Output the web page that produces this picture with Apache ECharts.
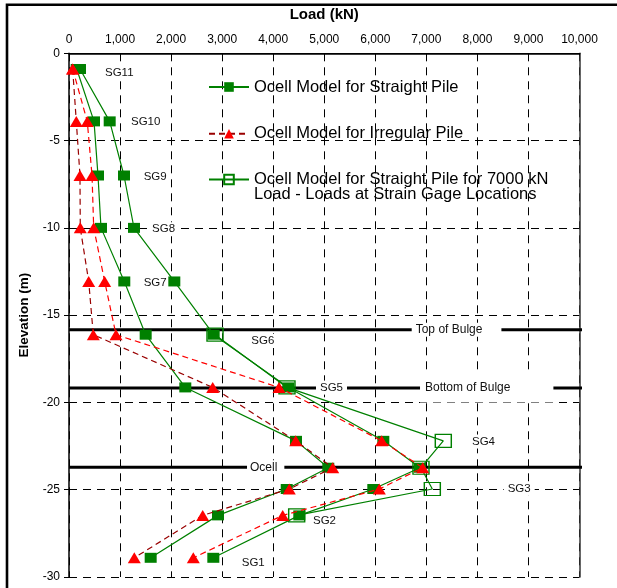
<!DOCTYPE html>
<html><head><meta charset="utf-8">
<script src="https://cdn.jsdelivr.net/npm/echarts@6/dist/echarts.min.js"></script>
<style>html,body{margin:0;padding:0;background:#fff}#c{width:617px;height:588px}</style>
</head><body><div id="c"></div>
<script>
// ---- data ----
const gauges = ['SG11','SG10','SG9','SG8','SG7','SG6','SG5','SG4','Ocell','SG3','SG2','SG1'];
const elevations = [-0.9,-3.9,-7.0,-10.0,-13.07,-16.12,-19.14,-22.2,-23.74,-24.96,-26.47,-28.9];
const straightLow   = [151,490,568,627,1083,1502,2278,4447,5079,4265,2919,1600];
const straightHigh  = [215,797,1077,1273,2063,2834,4296,6157,6876,5961,4511,2827];
const irregularLow  = [72,143,215,221,386,476,2815,4441,5166,4315,2619,1279];
const irregularHigh = [72,358,451,484,699,921,4114,6125,6929,6079,4186,2435];
const gauges7000 = ['SG6','SG5','SG4','Ocell','SG3','SG2'];
const straight7000 = [2860,4270,7332,6895,7117,4460];
const levelNames = ['Top of Bulge','Bottom of Bulge','Ocell'];
const levelElev = [-15.84,-19.18,-23.72];
const xTickLabels = ['0','1,000','2,000','3,000','4,000','5,000','6,000','7,000','8,000','9,000','10,000'];
const yTickLabels = ['-30','-25','-20','-15','-10','-5','0'];
const seriesNames = ['Ocell Model for Straight Pile','Ocell Model for Irregular Pile',
  'Ocell Model for Straight Pile for 7000 kN\nLoad - Loads at Strain Gage Locations'];
// annotation anchors (load, elevation) for the text labels
const gaugeLabelAt = [[627,-1.11],[1136,-3.95],[1385,-7.08],[1548,-10.08],[1385,-13.17],[3492,-16.48],
  [4838,-19.15],[7816,-22.24],null,[8515,-24.94],[4701,-26.77],[3305,-29.19]];
const levelLabelAt = [[6713,-15.84],[6876,-19.18],[3487,-23.72]];
const levelLabelPad = [[1,19,1,4],[1,43,16,5],[1,7,1,3]];
// ---------------------------------------

const FONT = 'Liberation Sans, Arial, Helvetica, sans-serif';
const GREEN = '#008000', RED = '#ff0000', DARKRED = '#990000';
const pts = (vals, elev) => vals.map((v,i)=>[v, elev[i]]);
const elev7000 = gauges7000.map(g => elevations[gauges.indexOf(g)]);

const chart = echarts.init(document.getElementById('c'), null, {renderer:'canvas'});

const levelSeries = levelElev.map((e,i)=>({
  type:'line', name:levelNames[i], data:[[0,e],[10186,e]], clip:false, symbol:'none', silent:true, z:1,
  lineStyle:{color:'#000', width:3}
}));

const annData = [];
gauges.forEach((g,i)=>{
  const a = gaugeLabelAt[i]; if(!a) return;
  annData.push({value:a, label:{formatter:g, fontSize:11.5, padding:[1,4,1,4]}});
});
levelNames.forEach((n,i)=>{
  annData.push({value:levelLabelAt[i], label:{formatter:n, fontSize:12, padding:levelLabelPad[i]}});
});

const legendCommon = {orient:'vertical', left:208, padding:0, itemWidth:40, itemHeight:12, itemGap:0,
  textStyle:{fontSize:16.5, lineHeight:15, color:'#000', fontFamily:FONT}};

const option = {
  animation:false,
  backgroundColor:'#fff',
  textStyle:{fontFamily:FONT},
  grid:{left:69, right:37.5, top:53.3, bottom:11, containLabel:false},
  xAxis:[{
    type:'value', position:'top', min:0, max:10000, interval:1000,
    name:'Load (kN)', nameLocation:'middle', nameGap:31,
    nameTextStyle:{fontWeight:'bold', fontSize:15, color:'#000', fontFamily:FONT},
    axisLine:{show:true, lineStyle:{color:'#000', width:1}},
    axisTick:{show:false},
    axisLabel:{color:'#000', fontSize:12, margin:8, fontFamily:FONT,
      formatter:(v)=>xTickLabels[Math.round(v/1000)]},
    splitLine:{show:true, lineStyle:{type:[8,6], color:'#000', width:1}}
  },{
    type:'value', position:'bottom', min:0, max:10000, interval:1000,
    axisLine:{show:true, lineStyle:{color:'#000', width:1.5}},
    axisTick:{show:true, length:2, lineStyle:{color:'#000'}},
    axisLabel:{show:false}, splitLine:{show:false}
  }],
  yAxis:[{
    type:'value', min:-30, max:0, interval:5,
    name:'Elevation (m)', nameLocation:'middle', nameGap:34, nameRotate:90,
    nameTextStyle:{fontWeight:'bold', fontSize:13.5, color:'#000', fontFamily:FONT},
    axisLine:{show:true, onZero:false, lineStyle:{color:'#000', width:1.5}},
    axisTick:{show:true, length:5, lineStyle:{color:'#000'}},
    axisLabel:{color:'#000', fontSize:12, margin:9, fontFamily:FONT,
      formatter:(v)=>yTickLabels[Math.round((v+30)/5)]},
    splitLine:{show:true, lineStyle:{type:[8,6], color:'#000', width:1}}
  },{
    type:'value', position:'right', min:-30, max:0, interval:5,
    axisLine:{show:true, onZero:false, lineStyle:{color:'#333', width:1.5}},
    axisTick:{show:false}, axisLabel:{show:false}, splitLine:{show:false}
  }],
  legend:[
    Object.assign({top:78.5, data:[seriesNames[0]]}, legendCommon),
    Object.assign({top:125.2, data:[seriesNames[1]]}, legendCommon),
    Object.assign({top:156, data:[seriesNames[2]], formatter:(n)=>'\n'+n}, legendCommon)
  ],
  graphic:[{type:'rect', shape:{x:7, y:4.7, width:700, height:700}, silent:true,
    style:{fill:'none', stroke:'#000', lineWidth:2.6}, z:100}],
  series:[
    ...levelSeries,
    {type:'scatter', name:'labels', data:annData, symbolSize:0, silent:true, z:2,
      itemStyle:{opacity:1},
      label:{show:true, position:[0,0], align:'left', verticalAlign:'middle', color:'#111',
        backgroundColor:'#fff', fontFamily:FONT}},
    {type:'line', name:seriesNames[0], data:pts(straightLow, elevations), z:3,
      symbol:'rect', symbolSize:[12,10], lineStyle:{color:GREEN, width:1.2}, itemStyle:{color:GREEN}},
    {type:'line', name:seriesNames[0], data:pts(straightHigh, elevations), z:3,
      symbol:'rect', symbolSize:[12,10], lineStyle:{color:GREEN, width:1.2}, itemStyle:{color:GREEN}},
    {type:'line', name:seriesNames[1], data:pts(irregularLow, elevations), z:4,
      symbol:'triangle', symbolSize:[13,11], lineStyle:{color:DARKRED, width:1.2, type:[6,4]}, itemStyle:{color:RED}},
    {type:'line', name:seriesNames[1], data:pts(irregularHigh, elevations), z:4,
      symbol:'triangle', symbolSize:[13,11], lineStyle:{color:RED, width:1.2, type:[6,4]}, itemStyle:{color:RED}},
    {type:'line', name:seriesNames[2], data:pts(straight7000, elev7000), z:3,
      symbol:'rect', symbolSize:[16,13], lineStyle:{color:GREEN, width:1.2},
      itemStyle:{color:'rgba(0,0,0,0)', borderColor:GREEN, borderWidth:1.3}}
  ]
};
chart.setOption(option);
</script></body></html>
